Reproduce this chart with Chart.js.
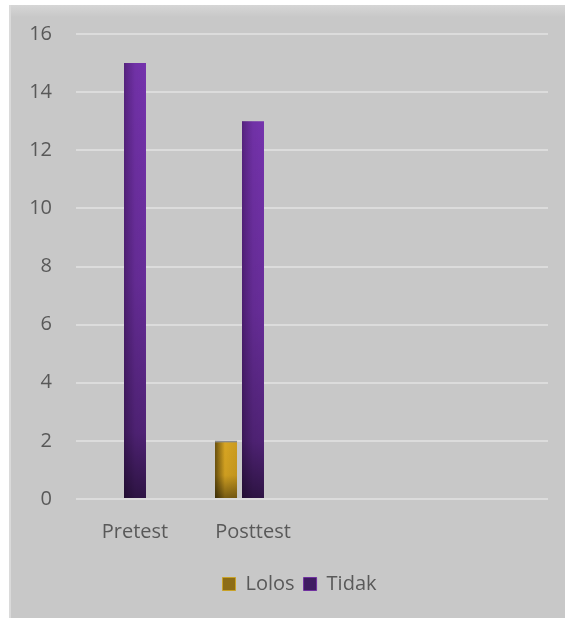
<!DOCTYPE html>
<html>
<head>
<meta charset="utf-8">
<script src="https://cdn.jsdelivr.net/npm/chart.js@4.4.1/dist/chart.umd.min.js"></script>
<style>
  body { margin: 0; background: #fff; }
  #box {
    position: absolute; left: 9px; top: 5px; width: 556px; height: 613px; overflow: hidden;
    background: linear-gradient(#d6d6d6 0px, #c8c8c8 12px, #c8c8c8 100%);
    border-left: 2px solid #dadada;
  }
  canvas { display: block; }
</style>
</head>
<body>
<div id="box"><canvas id="myChart" width="554" height="613"></canvas></div>
<script>
'use strict';

// data
let categories = ['Pretest', 'Posttest', '', ''];
let lolos = [0, 2, null, null];
let tidak = [15, 13, null, null];
let kosong = [null, null, null, null]; // third (empty) series, not in legend
let yTicks = [0, 2, 4, 6, 8, 10, 12, 14, 16];

let fontName = '"Open Sans", sans-serif';

// shading on top of each bar, like the office gradient fill
let shadePlugin = {
  id: 'shade',
  afterLayout(chart){
    // legend sits a bit right of centre in the original
    chart.legend.left += 20;
    chart.legend.right += 20;
  },
  afterDatasetsDraw(chart){
    let c = chart.ctx;
    chart.data.datasets.forEach(function(ds, di){
      let meta = chart.getDatasetMeta(di);
      meta.data.forEach(function(bar){
        let p = bar.getProps(['x', 'y', 'base', 'width'], true);
        if (!p.width || Math.abs(p.base - p.y) < 1) return;
        let left = p.x - p.width / 2;
        let top = Math.min(p.y, p.base);
        let h = Math.abs(p.base - p.y);
        c.save();
        let gh = c.createLinearGradient(left, 0, left + p.width, 0);
        let gv = c.createLinearGradient(0, top, 0, top + h);
        if (di === 0) {
          gh.addColorStop(0, 'rgba(40,30,0,0.65)');
          gh.addColorStop(0.45, 'rgba(40,30,0,0.05)');
          gh.addColorStop(1, 'rgba(40,30,0,0.12)');
          gv.addColorStop(0, 'rgba(0,0,0,0)');
          gv.addColorStop(0.6, 'rgba(0,0,0,0.05)');
          gv.addColorStop(1, 'rgba(0,0,0,0.45)');
        } else {
          gh.addColorStop(0, 'rgba(20,0,30,0.35)');
          gh.addColorStop(0.12, 'rgba(20,0,30,0.25)');
          gh.addColorStop(0.5, 'rgba(20,0,30,0.05)');
          gh.addColorStop(1, 'rgba(20,0,30,0)');
          gv.addColorStop(0, 'rgba(0,0,0,0)');
          gv.addColorStop(0.5, 'rgba(0,0,0,0.12)');
          gv.addColorStop(0.85, 'rgba(0,0,0,0.32)');
          gv.addColorStop(1, 'rgba(0,0,0,0.6)');
        }
        c.fillStyle = gh;
        c.fillRect(left, top, p.width, h);
        c.fillStyle = gv;
        c.fillRect(left, top, p.width, h);
        if (di === 0) {
          c.fillStyle = '#8c8c8c';
          c.fillRect(left, top, p.width, 1.5);
        }
        c.restore();
      });
    });
  }
};

let legendFill = ['#8d6d17', '#3f1c62'];
let legendEdge = ['#c9a227', '#7030a0'];

function chartRender(){
  let ctx = document.getElementById('myChart').getContext('2d');
  new Chart(ctx, {
    type: 'bar',
    data: {
      labels: categories,
      datasets: [{
        label: 'Lolos',
        data: lolos,
        backgroundColor: '#e2ad24',
        borderWidth: 0
      }, {
        label: 'Tidak',
        data: tidak,
        backgroundColor: '#7533ad',
        borderWidth: 0
      }, {
        label: '',
        data: kosong,
        backgroundColor: 'rgba(0,0,0,0)'
      }]
    },
    options: {
      responsive: false,
      animation: false,
      categoryPercentage: 0.686,
      barPercentage: 0.815,
      layout: { padding: { top: 29, right: 17, left: 0, bottom: 14 } },
      scales: {
        y: {
          min: 0,
          max: 16,
          afterBuildTicks(axis){ axis.ticks = yTicks.map(v => ({ value: v })); },
          afterFit(axis){
            axis.width = 65;
            axis.paddingTop = 10;
            axis.paddingBottom = 10;
          },
          grid: { color: '#dcdcdc', lineWidth: 2, drawTicks: false },
          border: { display: false },
          ticks: { color: '#595959', padding: 24, font: { family: fontName, size: 20 } }
        },
        x: {
          grid: { display: false, drawTicks: false },
          border: { display: false },
          ticks: { color: '#595959', padding: 21, font: { family: fontName, size: 20 } }
        }
      },
      plugins: {
        legend: {
          position: 'bottom',
          labels: {
            filter: item => item.text !== '',
            generateLabels(chart){
              let items = Chart.defaults.plugins.legend.labels.generateLabels(chart);
              items.forEach(function(it){
                if (it.datasetIndex < 2) {
                  it.fillStyle = legendFill[it.datasetIndex];
                  it.strokeStyle = legendEdge[it.datasetIndex];
                  it.lineWidth = 1;
                }
              });
              return items;
            },
            color: '#595959',
            boxWidth: 13,
            boxHeight: 13,
            padding: 9,
            font: { family: fontName, size: 20 }
          }
        },
        tooltip: { enabled: false }
      }
    },
    plugins: [shadePlugin]
  });
}
chartRender();
</script>
</body>
</html>
